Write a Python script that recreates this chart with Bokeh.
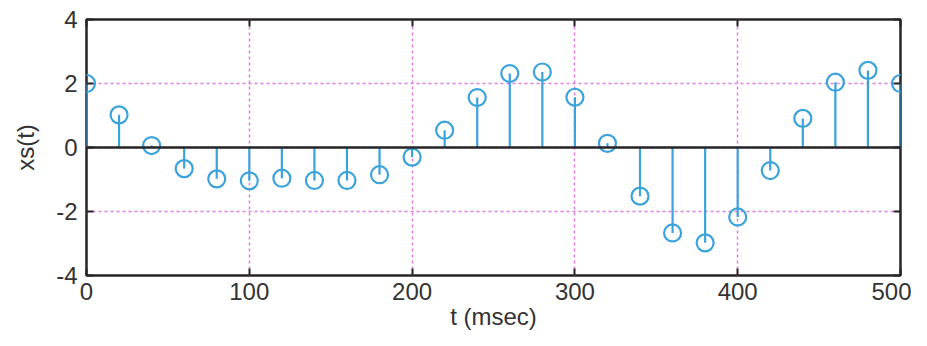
from bokeh.plotting import figure
from bokeh.models import Range1d, LinearAxis, Span, FixedTicker, ColumnDataSource
from bokeh.embed import file_html
from bokeh.resources import INLINE

t = [0, 20, 40, 60, 80, 100, 120, 140, 160, 180, 200, 220, 240,
     260, 280, 300, 320, 340, 360, 380, 400, 420, 440, 460, 480, 500]
xs = [2.0, 1.02, 0.06, -0.66, -0.98, -1.04, -0.96, -1.03, -1.03, -0.85, -0.30, 0.54, 1.56,
      2.31, 2.36, 1.57, 0.13, -1.52, -2.67, -2.98, -2.17, -0.72, 0.91, 2.04, 2.41, 2.0]
zeros = [0.0] * len(t)
x_ticks = [0, 100, 200, 300, 400, 500]
y_ticks = [-4, -2, 0, 2, 4]
y_tick_labels = {-4: "-4", -2: "-2", 0: "0", 2: "2", 4: "4"}

FONT = "Liberation Sans"
STEM = "#3ba3dc"
GRID = "#e07ee0"
FRAME = "#262626"

src = ColumnDataSource(dict(t=t, xs=xs, z=zeros))

p = figure(width=911, height=338, output_backend="svg", toolbar_location=None,
           x_range=Range1d(0, 500), y_range=Range1d(-4, 4),
           min_border_left=86, min_border_right=11, min_border_top=19, min_border_bottom=63)

p.background_fill_color = "white"
p.border_fill_color = "white"
p.outline_line_color = FRAME
p.outline_line_width = 2.5

# grids
p.xgrid.ticker = FixedTicker(ticks=x_ticks)
p.ygrid.ticker = FixedTicker(ticks=y_ticks)
for g in (p.xgrid, p.ygrid):
    g.grid_line_color = GRID
    g.grid_line_dash = "3 3"
    g.grid_line_width = 1.5

# axes
for ax, tk in ((p.xaxis[0], x_ticks), (p.yaxis[0], y_ticks)):
    ax.ticker = FixedTicker(ticks=tk)
    ax.axis_line_color = None
    ax.major_tick_in = 7
    ax.major_tick_out = 0
    ax.major_tick_line_color = FRAME
    ax.major_tick_line_width = 2
    ax.minor_tick_line_color = None
    ax.major_label_text_font = FONT
    ax.major_label_text_font_size = "24px"
    ax.major_label_text_color = "#333333"
    ax.axis_label_text_font = FONT
    ax.axis_label_text_font_size = "24px"
    ax.axis_label_text_font_style = "normal"
    ax.axis_label_text_color = "#333333"

p.yaxis[0].major_label_overrides = y_tick_labels
p.xaxis[0].axis_label = "t (msec)"
p.xaxis[0].major_label_standoff = 7
p.xaxis[0].axis_label_standoff = 0
p.yaxis[0].axis_label = "xs(t)"
p.yaxis[0].major_label_standoff = 9
p.yaxis[0].axis_label_standoff = 14

# mirrored tick-only axes (top/right)
for loc, tk in (("above", x_ticks), ("right", y_ticks)):
    a = LinearAxis(ticker=FixedTicker(ticks=tk))
    a.axis_line_color = None
    a.major_tick_in = 7
    a.major_tick_out = 0
    a.major_tick_line_color = FRAME
    a.major_tick_line_width = 2
    a.minor_tick_line_color = None
    a.major_label_text_font_size = "8px"
    a.major_label_overrides = {v: "" for v in tk}
    a.major_label_standoff = 0
    p.add_layout(a, loc)

# zero line
p.add_layout(Span(location=0, dimension="width", line_color=FRAME, line_width=2.5))

# stems
p.segment(x0="t", y0="z", x1="t", y1="xs", source=src, line_color=STEM, line_width=2.2)
p.scatter(x="t", y="xs", source=src, marker="circle", size=17,
          fill_color=None, line_color=STEM, line_width=2.2)

open("out.html", "w").write(file_html(p, INLINE))
